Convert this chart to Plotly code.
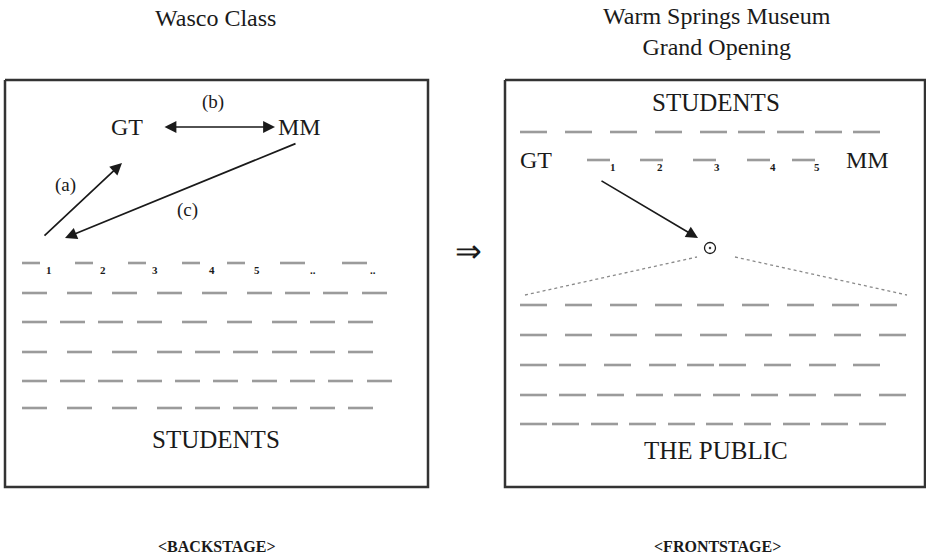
import plotly.graph_objects as go

W, H = 926, 557
SERIF = "Liberation Serif, Times New Roman, serif"
INK = "#1a1a1a"
DASH_COLOR = "#9b9b9b"

# ---------------- panels ----------------
panel_x0 = [5, 505]
panel_x1 = [428, 925]
panel_top = 80
panel_bottom = 487
panel_titles = ["Wasco Class", "Warm Springs Museum<br>Grand Opening"]
panel_title_x = [215, 717]
panel_title_y = [18, 31]
stage_labels = ["&lt;BACKSTAGE&gt;", "&lt;FRONTSTAGE&gt;"]
stage_label_x = [217, 717]
stage_label_y = 546

# ---------------- left panel (backstage) ----------------
left_labels = ["GT", "MM", "STUDENTS"]
left_label_x = [127, 299, 216]
left_label_y = [127, 127, 439]

left_letters = ["(a)", "(b)", "(c)"]
left_letter_x = [65, 213, 187]
left_letter_y = [185, 102, 210]

left_num_y = 263
left_num_start = [22, 75, 128, 182, 227, 280, 342]
left_num_len = [18, 18, 18, 18, 18, 25, 25]
left_num_text = ["1", "2", "3", "4", "5", "..", ".."]
left_num_text_x = [49, 103, 155, 212, 257, 313, 373]

left_rows_y = [293, 322, 352, 381, 408]
left_rows_start = [
    [22, 67, 112, 157, 202, 247, 285, 323, 362],
    [22, 60, 98, 137, 182, 227, 272, 310, 348],
    [22, 67, 112, 157, 195, 233, 272, 310, 348],
    [22, 60, 98, 137, 175, 213, 252, 290, 328, 367],
    [22, 67, 112, 157, 195, 233, 272, 310, 348],
]
left_dash_len = 25

# arrows: (tail_x, tail_y, head_x, head_y, both_ends)
arrows = [
    (43, 237, 122, 163, False),   # (a)
    (163, 127, 275, 127, True),   # (b)
    (297, 143, 65, 238, False),   # (c)
    (600, 180, 698, 238, False),  # GT -> public
]

# ---------------- right panel (frontstage) ----------------
right_labels = ["STUDENTS", "GT", "MM", "THE PUBLIC"]
right_label_x = [716, 536, 867, 716]
right_label_y = [102, 160, 160, 450]

right_students_y = 132
right_students_start = [520, 565, 610, 655, 700, 738, 777, 815, 853]

right_num_y = 160
right_num_start = [587, 640, 693, 747, 792]
right_num_len = 23
right_num_text = ["1", "2", "3", "4", "5"]
right_num_text_x = [613, 660, 717, 773, 817]

public_rows_y = [305, 335, 365, 395, 424]
public_rows_start = [
    [520, 565, 610, 655, 697, 742, 787, 832, 870],
    [520, 565, 610, 655, 700, 745, 789, 834, 879],
    [520, 559, 604, 649, 687, 719, 764, 809, 853],
    [520, 559, 597, 636, 674, 713, 751, 789, 834, 879],
    [520, 552, 591, 629, 668, 706, 744, 783, 821, 859],
]
right_dash_len = 27

focus_x, focus_y = 710, 248
sight_lines = [((525, 295), (697, 257)), ((735, 257), (907, 295))]

arrow_sym_x, arrow_sym_y = 468, 251

# ---------------- build ----------------
fig = go.Figure()


def dash_trace(starts, ys, lengths, width=2.6):
    xs, yv = [], []
    for s, y, L in zip(starts, ys, lengths):
        xs += [s, s + L, None]
        yv += [y, y, None]
    return go.Scatter(x=xs, y=yv, mode="lines", hoverinfo="skip",
                      line=dict(color=DASH_COLOR, width=width))


# panel frames
for x0, x1 in zip(panel_x0, panel_x1):
    fig.add_trace(go.Scatter(
        x=[x0, x1, x1, x0, x0],
        y=[panel_top, panel_top, panel_bottom, panel_bottom, panel_top],
        mode="lines", hoverinfo="skip",
        line=dict(color="#333333", width=2.5)))

# left dashes
fig.add_trace(dash_trace(left_num_start, [left_num_y] * len(left_num_start), left_num_len))
for y, row in zip(left_rows_y, left_rows_start):
    fig.add_trace(dash_trace(row, [y] * len(row), [left_dash_len] * len(row)))

# right dashes
fig.add_trace(dash_trace(right_students_start, [right_students_y] * len(right_students_start),
                         [right_dash_len] * len(right_students_start)))
fig.add_trace(dash_trace(right_num_start, [right_num_y] * len(right_num_start),
                         [right_num_len] * len(right_num_start)))
for y, row in zip(public_rows_y, public_rows_start):
    fig.add_trace(dash_trace(row, [y] * len(row), [right_dash_len] * len(row)))

# sight lines (dotted)
for (p0, p1) in sight_lines:
    fig.add_trace(go.Scatter(x=[p0[0], p1[0]], y=[p0[1], p1[1]], mode="lines",
                             hoverinfo="skip",
                             line=dict(color="#8a8a8a", width=1.3, dash="dot")))

# focus point
fig.add_trace(go.Scatter(x=[focus_x], y=[focus_y], mode="markers", hoverinfo="skip",
                         marker=dict(symbol="circle-open-dot", size=11,
                                     color=INK, line=dict(color=INK, width=1.3))))

annotations = []


def txt(t, x, y, size, bold=False, color=INK):
    if bold:
        t = "<b>" + t + "</b>"
    annotations.append(dict(text=t, x=x, y=y, xref="x", yref="y", showarrow=False,
                            xanchor="center", yanchor="middle",
                            font=dict(family=SERIF, size=size, color=color)))


for t, x, y in zip(panel_titles, panel_title_x, panel_title_y):
    txt(t, x, y, 24)
for t, x in zip(stage_labels, stage_label_x):
    txt(t, x, stage_label_y, 16, bold=True)
for t, x, y in zip(left_labels, left_label_x, left_label_y):
    txt(t, x, y, 24 if t != "STUDENTS" else 25)
for t, x, y in zip(left_letters, left_letter_x, left_letter_y):
    txt(t, x, y, 19)
for t, x in zip(left_num_text, left_num_text_x):
    txt(t, x, left_num_y + 7, 11, bold=True)
for t, x, y in zip(right_labels, right_label_x, right_label_y):
    txt(t, x, y, 24 if t in ("GT", "MM") else 25)
for t, x in zip(right_num_text, right_num_text_x):
    txt(t, x, right_num_y + 7, 11, bold=True)
txt("⇒", arrow_sym_x, arrow_sym_y, 32)

for tx, ty, hx, hy, both in arrows:
    annotations.append(dict(
        x=hx, y=hy, ax=tx, ay=ty, xref="x", yref="y", axref="x", ayref="y",
        text="", showarrow=True, arrowhead=2, startarrowhead=2,
        arrowside="end+start" if both else "end",
        arrowsize=1.4, startarrowsize=1.4, arrowwidth=1.7, arrowcolor=INK))

fig.update_layout(
    width=W, height=H,
    margin=dict(l=0, r=0, t=0, b=0),
    paper_bgcolor="white", plot_bgcolor="white",
    showlegend=False,
    xaxis=dict(range=[0, W], visible=False, fixedrange=True),
    yaxis=dict(range=[H, 0], visible=False, fixedrange=True),
    annotations=annotations,
)

fig.write_html(
    "out.html",
    config={"displayModeBar": False},
    post_script="document.body.style.margin='0';document.body.style.padding='0';"
                "document.body.style.overflow='hidden';",
)
